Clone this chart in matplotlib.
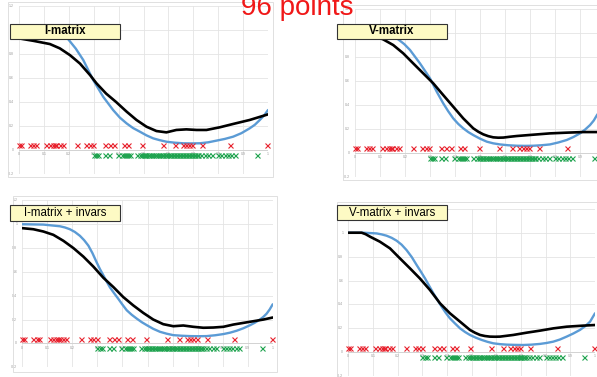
import matplotlib
matplotlib.use('Agg')
import matplotlib.pyplot as plt
from matplotlib.patches import Rectangle

plt.rcParams['font.family'] = ['Liberation Sans', 'DejaVu Sans']

# ---------------- data ----------------
titles = ["I-matrix", "V-matrix", "I-matrix + invars", "V-matrix + invars"]

red_x = [0.0, 0.008, 0.044, 0.057, 0.067, 0.110, 0.123, 0.135, 0.143, 0.150, 0.163,
         0.176, 0.234, 0.270, 0.284, 0.297, 0.346, 0.366, 0.383, 0.420, 0.437, 0.494,
         0.577, 0.627, 0.657, 0.670, 0.683, 0.696, 0.736, 0.847, 0.996]
green_x = [0.300, 0.310, 0.318, 0.346, 0.362, 0.396, 0.412, 0.420, 0.428, 0.436, 0.444,
           0.474, 0.486, 0.494, 0.500, 0.506, 0.512, 0.518, 0.524, 0.530, 0.538, 0.546,
           0.552, 0.560, 0.566, 0.574, 0.580, 0.586, 0.592, 0.598, 0.606, 0.612, 0.618,
           0.624, 0.630, 0.636, 0.642, 0.648, 0.654, 0.660, 0.666, 0.672, 0.678, 0.684,
           0.690, 0.696, 0.702, 0.708, 0.714, 0.720, 0.732, 0.746, 0.760, 0.774,
           0.800, 0.812, 0.826, 0.838, 0.852, 0.866, 0.956]
red_level = 0.04
green_level = -0.04

# panel 1: I-matrix
p1_blue_x = [0.0, 0.05, 0.10, 0.13, 0.16, 0.18, 0.198, 0.228, 0.258, 0.298, 0.338, 0.378,
             0.405, 0.432, 0.458, 0.485, 0.512, 0.539, 0.565, 0.592, 0.625, 0.659, 0.692,
             0.726, 0.76, 0.793, 0.826, 0.860, 0.893, 0.926, 0.947, 0.967, 0.985, 1.0]
p1_blue_y = [1.0, 0.998, 0.99, 0.98, 0.962, 0.945, 0.922, 0.845, 0.75, 0.583, 0.444, 0.333,
             0.27, 0.222, 0.183, 0.153, 0.122, 0.097, 0.082, 0.069, 0.061, 0.056, 0.055,
             0.056, 0.064, 0.078, 0.092, 0.111, 0.14, 0.18, 0.21, 0.25, 0.29, 0.333]
p1_black_x = [0.0, 0.057, 0.124, 0.164, 0.205, 0.245, 0.285, 0.311, 0.35, 0.39, 0.432, 0.472,
              0.512, 0.552, 0.592, 0.632, 0.672, 0.713, 0.753, 0.806, 0.86, 0.926, 1.0]
p1_black_y = [0.93, 0.91, 0.883, 0.847, 0.79, 0.72, 0.625, 0.556, 0.47, 0.40, 0.32, 0.25,
              0.194, 0.158, 0.147, 0.167, 0.172, 0.167, 0.167, 0.189, 0.217, 0.25, 0.297]

# panel 2: V-matrix
p2_blue_x = [0.0, 0.06, 0.12, 0.15, 0.173, 0.197, 0.22, 0.24, 0.26, 0.28, 0.30, 0.327, 0.353,
             0.373, 0.393, 0.413, 0.433, 0.453, 0.473, 0.50, 0.527, 0.553, 0.58, 0.613, 0.647,
             0.68, 0.713, 0.746, 0.78, 0.813, 0.847, 0.873, 0.90, 0.92, 0.94, 0.955, 0.968,
             0.985, 1.0]
p2_blue_y = [1.0, 0.998, 0.985, 0.97, 0.944, 0.905, 0.856, 0.80, 0.744, 0.682, 0.62, 0.508,
             0.411, 0.345, 0.286, 0.24, 0.203, 0.172, 0.147, 0.117, 0.092, 0.078, 0.069, 0.062,
             0.058, 0.057, 0.058, 0.062, 0.069, 0.085, 0.106, 0.13, 0.161, 0.192, 0.23, 0.268,
             0.314, 0.36, 0.40]
p2_black_x = [0.0, 0.06, 0.113, 0.153, 0.193, 0.233, 0.273, 0.313, 0.353, 0.393, 0.433, 0.473,
              0.493, 0.513, 0.533, 0.553, 0.573, 0.593, 0.62, 0.647, 0.713, 0.78, 0.847, 0.913,
              0.968, 1.0]
p2_black_y = [1.0, 0.985, 0.944, 0.897, 0.828, 0.744, 0.661, 0.578, 0.48, 0.383, 0.286, 0.203,
              0.175, 0.153, 0.138, 0.128, 0.125, 0.126, 0.133, 0.139, 0.15, 0.161, 0.167, 0.172,
              0.172, 0.172]

# panel 3: I-matrix + invars
p3_blue_x = [0.0, 0.084, 0.15, 0.17, 0.19, 0.21, 0.23, 0.247, 0.264, 0.28, 0.297, 0.31, 0.324,
             0.337, 0.35, 0.367, 0.383, 0.40, 0.417, 0.437, 0.457, 0.477, 0.497, 0.523, 0.55,
             0.577, 0.603, 0.637, 0.67, 0.703, 0.736, 0.77, 0.803, 0.83, 0.856, 0.883, 0.91,
             0.93, 0.949, 0.963, 0.976, 0.988, 1.0]
p3_blue_y = [1.0, 0.997, 0.983, 0.973, 0.958, 0.935, 0.903, 0.866, 0.82, 0.758, 0.68, 0.624,
             0.57, 0.518, 0.47, 0.42, 0.375, 0.325, 0.278, 0.24, 0.208, 0.178, 0.153, 0.122,
             0.097, 0.081, 0.069, 0.064, 0.061, 0.06, 0.061, 0.068, 0.078, 0.09, 0.106, 0.127,
             0.153, 0.175, 0.20, 0.223, 0.25, 0.285, 0.328]
p3_black_x = [0.0, 0.044, 0.084, 0.124, 0.164, 0.204, 0.244, 0.284, 0.324, 0.364, 0.403, 0.443,
              0.483, 0.523, 0.563, 0.603, 0.643, 0.683, 0.723, 0.763, 0.803, 0.843, 0.883,
              0.923, 0.963, 1.0]
p3_black_y = [0.967, 0.958, 0.939, 0.911, 0.861, 0.80, 0.728, 0.644, 0.55, 0.472, 0.389, 0.319,
              0.256, 0.20, 0.161, 0.144, 0.15, 0.139, 0.131, 0.133, 0.139, 0.158, 0.172,
              0.186, 0.20, 0.217]

# panel 4: V-matrix + invars
p4_blue_x = [0.0, 0.061, 0.115, 0.135, 0.155, 0.176, 0.196, 0.216, 0.236, 0.257, 0.277, 0.294,
             0.311, 0.328, 0.345, 0.362, 0.378, 0.395, 0.412, 0.433, 0.453, 0.473, 0.493,
             0.517, 0.541, 0.565, 0.588, 0.615, 0.642, 0.675, 0.709, 0.743, 0.777, 0.804,
             0.831, 0.858, 0.885, 0.912, 0.939, 0.96, 0.98, 1.0]
p4_blue_y = [1.0, 1.0, 0.994, 0.986, 0.975, 0.957, 0.933, 0.9, 0.855, 0.797, 0.73, 0.675,
             0.618, 0.555, 0.493, 0.436, 0.382, 0.33, 0.284, 0.24, 0.20, 0.17, 0.145, 0.122,
             0.103, 0.087, 0.075, 0.068, 0.064, 0.062, 0.061, 0.064, 0.07, 0.078, 0.089, 0.107,
             0.131, 0.157, 0.187, 0.218, 0.256, 0.326]
p4_black_x = [0.0, 0.054, 0.07, 0.088, 0.128, 0.169, 0.209, 0.25, 0.29, 0.331, 0.372, 0.412,
              0.453, 0.493, 0.514, 0.534, 0.554, 0.574, 0.595, 0.615, 0.642, 0.669, 0.723, 0.777,
              0.831, 0.885, 0.953, 1.0]
p4_black_y = [1.0, 1.0, 0.988, 0.967, 0.925, 0.869, 0.786, 0.702, 0.618, 0.521, 0.409, 0.326,
              0.256, 0.187, 0.163, 0.145, 0.136, 0.131, 0.13, 0.131, 0.138, 0.145, 0.164, 0.181,
              0.20, 0.214, 0.223, 0.228]

x_ticks = [0, 0.1, 0.2, 0.3, 0.4, 0.5, 0.6, 0.7, 0.8, 0.9, 1]
x_tick_labels = ["0", "0.1", "0.2", "0.3", "0.4", "0.5", "0.6", "0.7", "0.8", "0.9", "1"]
y_ticks = [-0.2, 0, 0.2, 0.4, 0.6, 0.8, 1.0, 1.2]
y_tick_labels = ["-0.2", "0", "0.2", "0.4", "0.6", "0.8", "1", "1.2"]

# ---------------- layout (pixels) ----------------
W, H = 597, 377
# plot area: x_left(x=0), x_right(x=1), y_top(1.2), y_bottom(-0.2)
plot_px = [(19, 268, 6, 174), (355, 605, 8.7, 176.7),
           (22.3, 272.7, 200.4, 367.2), (348.3, 595, 208.8, 376.2)]
frame_px = [(8, 2, 273, 177), (343, 5, 640, 180), (13, 196, 277, 372), (337, 202, 640, 400)]
box_px = [(10, 24, 120, 39), (337, 24, 447, 39), (10, 205, 120, 221), (337, 205, 447, 220)]
title_weight = ['bold', 'bold', 'normal', 'normal']

BLUE = '#5B9BD5'
RED = '#E8232F'
GREEN = '#1FA34F'
GRID = '#E4E4E4'

fig = plt.figure(figsize=(W / 100, H / 100), dpi=100)
fig.patch.set_facecolor('white')

curves = [(p1_blue_x, p1_blue_y, p1_black_x, p1_black_y),
          (p2_blue_x, p2_blue_y, p2_black_x, p2_black_y),
          (p3_blue_x, p3_blue_y, p3_black_x, p3_black_y),
          (p4_blue_x, p4_blue_y, p4_black_x, p4_black_y)]

for i in range(4):
    fx0, fy0, fx1, fy1 = frame_px[i]
    fig.add_artist(Rectangle((fx0 / W, 1 - fy1 / H), (fx1 - fx0) / W, (fy1 - fy0) / H,
                             transform=fig.transFigure, fill=False, ec='#DADADA', lw=0.6))

    xl, xr, yt, yb = plot_px[i]
    ax = fig.add_axes([xl / W, 1 - yb / H, (xr - xl) / W, (yb - yt) / H])
    ax.set_xlim(0, 1)
    ax.set_ylim(-0.2, 1.2)
    for s in ax.spines.values():
        s.set_visible(False)
    ax.set_xticks([])
    ax.set_yticks([])
    for xv in x_ticks:
        ax.axvline(xv, color=GRID, lw=0.6, zorder=0)
    for yv in y_ticks:
        ax.axhline(yv, color=GRID, lw=0.6, zorder=0)
    ax.axhline(0, color='#D0D0D0', lw=0.6, zorder=0)
    for xv, lab in zip(x_ticks, x_tick_labels):
        ax.text(xv, -0.035, lab, fontsize=2.5, color='#999999', ha='center', va='center', zorder=1)
    for yv, lab in zip(y_ticks, y_tick_labels):
        ax.text(-0.02, yv, lab, fontsize=2.5, color='#999999', ha='right', va='center',
                zorder=1, clip_on=False)

    bx, by, kx, ky = curves[i]
    ax.plot(bx, by, color=BLUE, lw=1.7, zorder=3, solid_capstyle='round',
            solid_joinstyle='round')
    ax.plot(kx, ky, color='black', lw=1.9, zorder=4, solid_capstyle='round',
            solid_joinstyle='round')

    ax.plot(red_x, [red_level] * len(red_x), ls='none', marker='x', ms=3.6, mew=0.8,
            color=RED, zorder=5, clip_on=False)
    ax.plot(green_x, [green_level] * len(green_x), ls='none', marker='x', ms=3.6, mew=0.8,
            color=GREEN, zorder=5, clip_on=False)

    x0, y0, x1, y1 = box_px[i]
    fig.add_artist(Rectangle((x0 / W, 1 - y1 / H), (x1 - x0) / W, (y1 - y0) / H,
                             transform=fig.transFigure, fc='#FDFAC4', ec='#333333', lw=0.8,
                             zorder=10))
    fig.text((x0 + x1) / 2 / W, 1 - (y0 + y1) / 2 / H, titles[i], fontsize=8.3,
             fontweight=title_weight[i], ha='center', va='center', zorder=11)

fig.text(297 / W, 1 - 15 / H, "96 points", color='#F01818', fontsize=20,
         ha='center', va='baseline', zorder=12)

fig.savefig('out.png', dpi=100)
